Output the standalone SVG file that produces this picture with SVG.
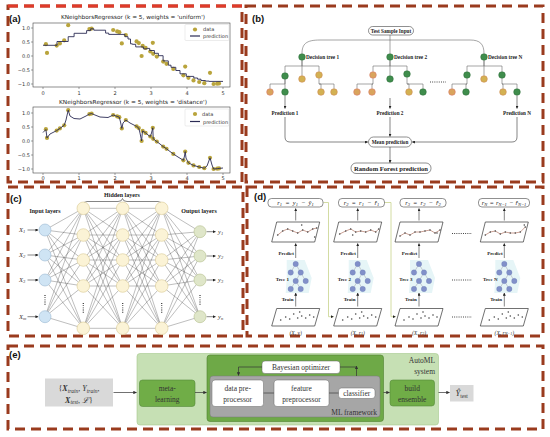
<svg xmlns="http://www.w3.org/2000/svg" width="550" height="437" viewBox="0 0 550 437">
<style>
.frame{fill:none;stroke:#9a3b1e;stroke-width:3;stroke-dasharray:10 6}
.lbl{font-family:"Liberation Sans",Arial,sans-serif;font-weight:bold;font-size:9.5px;fill:#111}
.mpl{font-family:"DejaVu Sans",sans-serif;fill:#333}
.tick{font-size:5px}
.ttl{font-size:5.6px;fill:#222}
.ax{fill:#fff;stroke:#444;stroke-width:0.6}
.tk{stroke:#444;stroke-width:0.5}
.dat{fill:#b9a43c}
.pred{fill:none;stroke:#2b2b55;stroke-width:0.9}
.leg{fill:#fff;stroke:#d0d0d0;stroke-width:0.4}
.tm{font-family:"Liberation Serif","Times New Roman",serif;font-weight:bold;fill:#222}
.con{fill:none;stroke:#6a6a6a;stroke-width:0.6;stroke-linejoin:round}
.arr{fill:none;stroke:#333;stroke-width:0.6;marker-end:url(#ah)}
.gn{fill:#3f8d4c;stroke:#2b6a37;stroke-width:0.5}
.yn{fill:#d3b152;stroke:#cf8a55;stroke-width:0.6}
.orn{fill:#d9a45c;stroke:#d9786a;stroke-width:0.6}
.pill{fill:#fff;stroke:#444;stroke-width:0.6}
.nn{stroke:#222;stroke-width:0.3;fill:none}
.inn{fill:#cfe4f4;stroke:#9bb9d2;stroke-width:0.6}
.hn{fill:#fbf3d6;stroke:#d8c993;stroke-width:0.6}
.outn{fill:#dfe6c9;stroke:#b6bf8d;stroke-width:0.6}
.dots{stroke:#333;stroke-width:1.2;stroke-dasharray:0.9 1.3;fill:none}
.mth{font-family:"Liberation Serif","Times New Roman",serif;font-style:italic;font-size:6.5px;fill:#222;word-spacing:1.5px}
.sb{font-size:4.5px}
.para{fill:#fff;stroke:#333;stroke-width:0.7}
.pl{fill:none;stroke:#b57a68;stroke-width:0.7}
.pd{fill:#444}
.te{stroke:#8a8a9a;stroke-width:0.4;fill:none}
.tb{fill:#8190c9;stroke:#6677b0;stroke-width:0.3}
.ygl{fill:none;stroke:#c8d38c;stroke-width:0.8}
.cm{font-family:"Liberation Serif","Times New Roman",serif;fill:#333}
.wb{fill:#fff;stroke:#666;stroke-width:0.5}
.gb{fill:#70ad47;stroke:#55893a;stroke-width:0.6}
.ea{fill:none;stroke:#333;stroke-width:0.7;marker-end:url(#ah2)}
</style>
<defs>
<marker id="ah" viewBox="0 0 6 6" refX="5.5" refY="3" markerWidth="3" markerHeight="3" markerUnits="userSpaceOnUse" orient="auto"><path d="M0,0 L6,3 L0,6z" fill="#222"/></marker>
<marker id="ah2" viewBox="0 0 6 6" refX="5.5" refY="3" markerWidth="3.5" markerHeight="3.5" markerUnits="userSpaceOnUse" orient="auto"><path d="M0,0 L6,3 L0,6z" fill="#333"/></marker>
<g id="tree">
<path d="M-9,-4 L9,-4 L16,14 L13,29 L-10,29 L-9,14Z" fill="#e6f5f7"/>
<path class="te" d="M0,0 L-5,8.5 M0,0 L5,8.5 M5,8.5 L0,17 M5,8.5 L10,17 M0,17 L-5,25 M0,17 L5,25"/>
<circle class="tb" cx="0" cy="0" r="2.7"/><circle class="tb" cx="-5" cy="8.5" r="2.7"/><circle class="tb" cx="5" cy="8.5" r="2.7"/>
<circle class="tb" cx="0" cy="17" r="2.7"/><circle class="tb" cx="10" cy="17" r="2.7"/><circle class="tb" cx="-5" cy="25" r="2.7"/><circle class="tb" cx="5" cy="25" r="2.7"/>
</g>
<g id="scat">
<circle class="pd" cx="-15" cy="320" r="0.8"/><circle class="pd" cx="-10" cy="317" r="0.8"/><circle class="pd" cx="-6" cy="319" r="0.8"/><circle class="pd" cx="-2" cy="314" r="0.8"/><circle class="pd" cx="2" cy="318" r="0.8"/><circle class="pd" cx="6" cy="316" r="0.8"/><circle class="pd" cx="10" cy="318" r="0.8"/><circle class="pd" cx="14" cy="315" r="0.8"/><circle class="pd" cx="18" cy="317" r="0.8"/><circle class="pd" cx="4" cy="312" r="0.8"/>
</g>
</defs>
<rect width="550" height="437" fill="#fff"/>

<g id="frames">
<rect class="frame" x="8" y="6" width="234" height="176"/>
<line x1="8" y1="6" x2="242" y2="6" stroke="#e03a2a" stroke-width="3" stroke-dasharray="10 6"/>
<rect class="frame" x="246" y="6" width="297" height="176"/>
<rect class="frame" x="8" y="187" width="235" height="149"/>
<rect class="frame" x="247" y="187" width="296" height="149"/>
<rect class="frame" x="8" y="346" width="535" height="83"/>
</g>

<g id="panel-a">
<text class="lbl" x="9" y="22">(a)</text>
<text class="mpl ttl" x="133" y="19" text-anchor="middle" textLength="144" lengthAdjust="spacingAndGlyphs">KNeighborsRegressor (k = 5, weights = 'uniform')</text>
<rect class="ax" x="33" y="23" width="197" height="64"/>
<path class="tk" d="M31,28H33M31,42H33M31,56H33M31,70H33M31,84H33M43,87V89M79,87V89M115,87V89M151,87V89M187,87V89M223,87V89"/>
<g class="mpl tick" text-anchor="end">
<text x="30" y="29.8">1.0</text><text x="30" y="43.8">0.5</text><text x="30" y="57.8">0.0</text><text x="30" y="71.8">−0.5</text><text x="30" y="85.8">−1.0</text>
</g>
<g class="mpl tick" text-anchor="middle">
<text x="43" y="95">0</text><text x="79" y="95">1</text><text x="115" y="95">2</text><text x="151" y="95">3</text><text x="187" y="95">4</text><text x="223" y="95">5</text>
</g>
<g id="dataTop" class="dat">
<circle cx="45.9" cy="44.2" r="2.1"/><circle cx="47" cy="52.9" r="2.1"/><circle cx="56.7" cy="45.6" r="2.1"/><circle cx="59.9" cy="43.4" r="2.1"/><circle cx="64.2" cy="40.3" r="2.1"/><circle cx="68.2" cy="25.2" r="2.1"/><circle cx="89.4" cy="29.1" r="2.1"/><circle cx="91.6" cy="28.6" r="2.1"/><circle cx="113.2" cy="30" r="2.1"/><circle cx="117.2" cy="31.4" r="2.1"/><circle cx="119.3" cy="32.2" r="2.1"/><circle cx="121.8" cy="43.4" r="2.1"/><circle cx="125.8" cy="35" r="2.1"/><circle cx="136.6" cy="41.4" r="2.1"/><circle cx="138.8" cy="43.1" r="2.1"/><circle cx="141.6" cy="56" r="2.1"/><circle cx="142.7" cy="45.9" r="2.1"/><circle cx="145.6" cy="47.9" r="2.1"/><circle cx="150.3" cy="51.5" r="2.1"/><circle cx="152.8" cy="42.8" r="2.1"/><circle cx="153.2" cy="53.8" r="2.1"/><circle cx="156.8" cy="56.6" r="2.1"/><circle cx="163.2" cy="61.6" r="2.1"/><circle cx="166.5" cy="63.8" r="2.1"/><circle cx="173.3" cy="68.9" r="2.1"/><circle cx="183.4" cy="75.3" r="2.1"/><circle cx="185.2" cy="66.6" r="2.1"/><circle cx="188.4" cy="77.8" r="2.1"/><circle cx="193.5" cy="80.4" r="2.1"/><circle cx="199.2" cy="82" r="2.1"/><circle cx="204.3" cy="83.2" r="2.1"/><circle cx="210" cy="72.8" r="2.1"/><circle cx="213.6" cy="84" r="2.1"/><circle cx="217.2" cy="83.7" r="2.1"/><circle cx="219" cy="83.4" r="2.1"/>
</g>
<path class="pred" d="M43,45.3H57V41.5H68.2V36.7H74.1V33.3H86.6V30.6H90.7V28.8H93.8V30.2H105.6V33.1H108.7V34.4H124.9V36.7H128V39H130.5V43.8H132.3V44.3H135.7V46.9H143.4V48.9H145.8V48.8H147.4V48.4H149.7V50.5H154.4V53.3H158.4V55.7H163.1V60.9H168.3V65.2H171V67.3H175.8V70.5H180V73.8H186.3V76.4H193.8V78H197.6V79.2H201V80.5H205.4V81.1H209.1V81.4H223"/>
<rect class="leg" x="185" y="24.5" width="44" height="16" rx="1"/>
<circle class="dat" cx="195" cy="29.5" r="2.1"/>
<text class="mpl" x="203" y="31.3" font-size="5">data</text>
<line x1="190" y1="36" x2="200" y2="36" stroke="#2b2b55" stroke-width="1.2"/>
<text class="mpl" x="203" y="37.8" font-size="5">prediction</text>

<text class="mpl ttl" x="133" y="104" text-anchor="middle" textLength="148" lengthAdjust="spacingAndGlyphs">KNeighborsRegressor (k = 5, weights = 'distance')</text>
<rect class="ax" x="33" y="107" width="197" height="66"/>
<path class="tk" d="M31,113H33M31,127H33M31,141H33M31,155H33M31,169H33M43,173V175M79,173V175M115,173V175M151,173V175M187,173V175M223,173V175"/>
<g class="mpl tick" text-anchor="end">
<text x="30" y="114.8">1.0</text><text x="30" y="128.8">0.5</text><text x="30" y="142.8">0.0</text><text x="30" y="156.8">−0.5</text><text x="30" y="170.8">−1.0</text>
</g>
<g class="mpl tick" text-anchor="middle">
<text x="43" y="180">0</text><text x="79" y="180">1</text><text x="115" y="180">2</text><text x="151" y="180">3</text><text x="187" y="180">4</text><text x="223" y="180">5</text>
</g>
<use href="#dataTop" transform="translate(0,85)"/>
<path class="pred" d="M43,132.5L45.9,129.5L47,137.9L50,134L56.7,130.6L59.9,128.4L64.2,125.3L66,120L68.2,110.2L70,116L74,118.5L80,119L86,116L89.4,114.1L91.6,113.6L95,115L100,117L108,117.5L113.2,115L117.2,116.4L119.3,117.2L120.5,122L121.8,128.4L123,123L125.8,120L130,123L136.6,126.4L138.8,128.1L140,133L141.6,141L142.2,134L142.7,130.9L145.6,132.9L148,135L150.3,136.5L151.5,133L152.8,127.8L153.2,138.8L156.8,141.6L160,144L163.2,146.6L166.5,148.8L170,151.5L173.3,153.9L178,157L183.4,160.3L184.5,156L185.2,151.6L186,158L188.4,162.8L193.5,165.4L199.2,167L204.3,168.2L207,166L210,157.8L212,165L213.6,169L217.2,168.7L219,168.4L223,168"/>
<rect class="leg" x="185" y="109" width="44" height="17" rx="1"/>
<circle class="dat" cx="195" cy="114" r="2.1"/>
<text class="mpl" x="202" y="116" font-size="5">data</text>
<line x1="190" y1="121.5" x2="200" y2="121.5" stroke="#2b2b55" stroke-width="1.2"/>
<text class="mpl" x="203" y="123.5" font-size="5">prediction</text>
</g>

<g id="panel-b">
<text class="lbl" x="252" y="22">(b)</text>
<g id="b-connectors">
<path class="con" d="M390,35V53.7"/>
<path class="con" d="M302,53.7C302,44 306,40 320,40H470C480,40 484,44 484,53.7"/>
<path class="con" d="M302,60.3V66H285V72.7M302,60.3V75.7M302,66H319V71.7M285,79.3V84H270V88.7M285,79.3V88.7M319,78.3V84H321V88.7M319,84H334V88.7"/>
<path class="con" d="M390,60.3V66H373V71.7M390,60.3V75.7M390,66H407V70.7M373,78.3V84H357V88.7M373,84H372V88.7M407,77.3V84H409V88.7M407,84H423V88.7"/>
<path class="con" d="M484,60.3V66H467V71.7M484,60.3V75.7M484,66H502V71.7M467,78.3V84H452V88.7M467,84H466V88.7M502,78.3V84H503V88.7M502,84H517V88.7"/>
<path class="arr" d="M285,95.5V108.5"/>
<path class="arr" d="M390,98V108.5"/>
<path class="arr" d="M517,95.5V108.5"/>
<path class="arr" d="M285,117V137Q285,142 290,142H367.8"/>
<path class="arr" d="M517,117V137Q517,142 512,142H412.2"/>
<path class="arr" d="M390,117V136.5"/>
<path class="arr" d="M390,147V162.8"/>
<path class="dots" d="M430,82H446"/>
</g>
<g id="b-test"><rect class="pill" x="368.5" y="26.5" width="45" height="8.5" rx="4.2"/><text class="tm" x="391" y="32.6" font-size="5.2" text-anchor="middle">Test Sample Input</text></g>
<g id="tree1">
<circle class="gn" cx="302" cy="57" r="3.3"/>
<circle class="gn" cx="285" cy="76" r="3.3"/><circle class="yn" cx="302" cy="79" r="3.3"/><circle class="yn" cx="319" cy="75" r="3.3"/>
<circle class="orn" cx="270" cy="92" r="3.3"/><circle class="gn" cx="285" cy="92" r="3.3"/><circle class="yn" cx="321" cy="92" r="3.3"/><circle class="yn" cx="334" cy="92" r="3.3"/>
<text class="tm" x="306" y="58.5" font-size="5.3">Decision tree 1</text>
</g>
<g id="tree2">
<circle class="gn" cx="390" cy="57" r="3.3"/>
<circle class="orn" cx="373" cy="75" r="3.3"/><circle class="gn" cx="390" cy="79" r="3.3"/><circle class="gn" cx="407" cy="74" r="3.3"/>
<circle class="orn" cx="357" cy="92" r="3.3"/><circle class="orn" cx="372" cy="92" r="3.3"/><circle class="yn" cx="409" cy="92" r="3.3"/><circle class="gn" cx="423" cy="92" r="3.3"/>
<text class="tm" x="394" y="58.5" font-size="5.3">Decision tree 2</text>
</g>
<g id="treeN">
<circle class="gn" cx="484" cy="57" r="3.3"/>
<circle class="gn" cx="467" cy="75" r="3.3"/><circle class="yn" cx="484" cy="79" r="3.3"/><circle class="gn" cx="502" cy="75" r="3.3"/>
<circle class="orn" cx="452" cy="92" r="3.3"/><circle class="gn" cx="466" cy="92" r="3.3"/><circle class="yn" cx="503" cy="92" r="3.3"/><circle class="gn" cx="517" cy="92" r="3.3"/>
<text class="tm" x="488" y="58.5" font-size="5.3">Decision tree N</text>
</g>
<g id="b-preds" class="tm" font-size="5.2" text-anchor="middle">
<text x="285" y="114.5">Prediction 1</text>
<text x="390" y="114.5">Prediction 2</text>
<text x="517" y="114.5">Prediction N</text>
</g>
<g id="b-mean"><rect class="pill" x="368.5" y="137" width="43" height="10" rx="5"/><text class="tm" x="390" y="143.8" font-size="5.2" text-anchor="middle">Mean prediction</text></g>
<g id="b-rf"><rect class="pill" x="351" y="163" width="80" height="10.5" rx="5"/><text class="tm" x="391" y="170.8" font-size="7" text-anchor="middle" textLength="74" lengthAdjust="spacingAndGlyphs">Random Forest prediction</text></g>
</g>

<g id="panel-c">
<text class="lbl" x="10" y="202">(c)</text>
<text class="tm" x="45" y="213" font-size="6" text-anchor="middle">Input layers</text>
<text class="tm" x="122" y="196.5" font-size="6" text-anchor="middle">Hidden layers</text>
<text class="tm" x="199" y="213" font-size="6" text-anchor="middle">Output layers</text>
<path d="M83,205.5Q83,201.5 87,201.5H118Q122,201.5 122.5,198.5Q123,201.5 127,201.5H158Q162,201.5 162,205.5" fill="none" stroke="#333" stroke-width="0.6"/>
<g id="c-connectors">
<path class="nn" d="M45 230L83.3 208.3M45 230L83.3 235M45 230L83.3 260M45 230L83.3 286M45 230L83.3 328.3M45 255L83.3 208.3M45 255L83.3 235M45 255L83.3 260M45 255L83.3 286M45 255L83.3 328.3M45 280L83.3 208.3M45 280L83.3 235M45 280L83.3 260M45 280L83.3 286M45 280L83.3 328.3M45 316.7L83.3 208.3M45 316.7L83.3 235M45 316.7L83.3 260M45 316.7L83.3 286M45 316.7L83.3 328.3"/>
<path class="nn" d="M83.3 208.3L122.7 208.3M83.3 208.3L122.7 235M83.3 208.3L122.7 260M83.3 208.3L122.7 286M83.3 208.3L122.7 328.3M83.3 235L122.7 208.3M83.3 235L122.7 235M83.3 235L122.7 260M83.3 235L122.7 286M83.3 235L122.7 328.3M83.3 260L122.7 208.3M83.3 260L122.7 235M83.3 260L122.7 260M83.3 260L122.7 286M83.3 260L122.7 328.3M83.3 286L122.7 208.3M83.3 286L122.7 235M83.3 286L122.7 260M83.3 286L122.7 286M83.3 286L122.7 328.3M83.3 328.3L122.7 208.3M83.3 328.3L122.7 235M83.3 328.3L122.7 260M83.3 328.3L122.7 286M83.3 328.3L122.7 328.3"/>
<path class="nn" d="M122.7 208.3L161.7 208.3M122.7 208.3L161.7 235M122.7 208.3L161.7 260M122.7 208.3L161.7 286M122.7 208.3L161.7 328.3M122.7 235L161.7 208.3M122.7 235L161.7 235M122.7 235L161.7 260M122.7 235L161.7 286M122.7 235L161.7 328.3M122.7 260L161.7 208.3M122.7 260L161.7 235M122.7 260L161.7 260M122.7 260L161.7 286M122.7 260L161.7 328.3M122.7 286L161.7 208.3M122.7 286L161.7 235M122.7 286L161.7 260M122.7 286L161.7 286M122.7 286L161.7 328.3M122.7 328.3L161.7 208.3M122.7 328.3L161.7 235M122.7 328.3L161.7 260M122.7 328.3L161.7 286M122.7 328.3L161.7 328.3"/>
<path class="nn" d="M161.7 208.3L200 231.7M161.7 208.3L200 256M161.7 208.3L200 280M161.7 208.3L200 316.7M161.7 235L200 231.7M161.7 235L200 256M161.7 235L200 280M161.7 235L200 316.7M161.7 260L200 231.7M161.7 260L200 256M161.7 260L200 280M161.7 260L200 316.7M161.7 286L200 231.7M161.7 286L200 256M161.7 286L200 280M161.7 286L200 316.7M161.7 328.3L200 231.7M161.7 328.3L200 256M161.7 328.3L200 280M161.7 328.3L200 316.7"/>
<path class="arr" d="M27.5,230H38.2"/><path class="arr" d="M27.5,255H38.2"/><path class="arr" d="M27.5,280H38.2"/><path class="arr" d="M27.5,316.7H38.2"/>
<path class="arr" d="M206.5,231.7H215.5"/><path class="arr" d="M206.5,256H215.5"/><path class="arr" d="M206.5,280H215.5"/><path class="arr" d="M206.5,316.7H215.5"/>
</g>
<g id="c-input">
<circle class="inn" cx="45" cy="230" r="6"/><circle class="inn" cx="45" cy="255" r="6"/><circle class="inn" cx="45" cy="280" r="6"/><circle class="inn" cx="45" cy="316.7" r="6"/>
<path class="dots" d="M45,295V306"/>
</g>
<g id="c-hidden">
<circle class="hn" cx="83.3" cy="208.3" r="6.3"/><circle class="hn" cx="83.3" cy="235" r="6.3"/><circle class="hn" cx="83.3" cy="260" r="6.3"/><circle class="hn" cx="83.3" cy="286" r="6.3"/><circle class="hn" cx="83.3" cy="328.3" r="6.3"/>
<circle class="hn" cx="122.7" cy="208.3" r="6.3"/><circle class="hn" cx="122.7" cy="235" r="6.3"/><circle class="hn" cx="122.7" cy="260" r="6.3"/><circle class="hn" cx="122.7" cy="286" r="6.3"/><circle class="hn" cx="122.7" cy="328.3" r="6.3"/>
<circle class="hn" cx="161.7" cy="208.3" r="6.3"/><circle class="hn" cx="161.7" cy="235" r="6.3"/><circle class="hn" cx="161.7" cy="260" r="6.3"/><circle class="hn" cx="161.7" cy="286" r="6.3"/><circle class="hn" cx="161.7" cy="328.3" r="6.3"/>
<path class="dots" d="M83.3,303V314M122.7,303V314M161.7,303V314"/>
</g>
<g id="c-output">
<circle class="outn" cx="200" cy="231.7" r="6"/><circle class="outn" cx="200" cy="256" r="6"/><circle class="outn" cx="200" cy="280" r="6"/><circle class="outn" cx="200" cy="316.7" r="6"/>
<path class="dots" d="M200,295V306"/>
</g>
<g class="cm" font-style="italic" font-size="6.5">
<text x="19" y="232">X<tspan class="sb" dy="1.3">1</tspan></text>
<text x="19" y="257">X<tspan class="sb" dy="1.3">2</tspan></text>
<text x="19" y="282">X<tspan class="sb" dy="1.3">3</tspan></text>
<text x="19" y="318.7">X<tspan class="sb" dy="1.3">m</tspan></text>
<text x="218" y="233.5">y<tspan class="sb" dy="1.3">1</tspan></text>
<text x="218" y="257.8">y<tspan class="sb" dy="1.3">2</tspan></text>
<text x="218" y="281.8">y<tspan class="sb" dy="1.3">3</tspan></text>
<text x="218" y="318.5">y<tspan class="sb" dy="1.3">n</tspan></text>
</g>
</g>

<g id="panel-d">
<text class="lbl" x="254" y="200">(d)</text>
<g id="d-connectors">
<path class="ygl" d="M323.5,202.5H328.5V316.7H333.5" marker-end="url(#ah)"/>
<path class="ygl" d="M384.5,202.5H391V316.7H395.5" marker-end="url(#ah)"/>
<path class="arr" d="M295.7,220.5V208.5"/><path class="arr" d="M357.7,220.5V208.5"/><path class="arr" d="M419,220.5V208.5"/><path class="arr" d="M504.3,220.5V208.5"/>
<path class="arr" d="M295.7,258V243.5"/><path class="arr" d="M357.7,258V243.5"/><path class="arr" d="M419,258V243.5"/><path class="arr" d="M504.3,258V243.5"/>
<path class="arr" d="M295.7,306.5V293"/><path class="arr" d="M357.7,306.5V293"/><path class="arr" d="M419,306.5V293"/><path class="arr" d="M504.3,306.5V293"/>
<path class="dots" d="M452,233.5H472M452,280H472M452,317H472"/>
</g>
<g id="d-r1"><rect class="pill" x="268" y="198.5" width="55" height="8.5" rx="3.5"/>
<text class="mth" x="295.5" y="204.8" text-anchor="middle">r<tspan class="sb" dy="1.2">1</tspan><tspan dy="-1.2"> = y</tspan><tspan class="sb" dy="1.2">1</tspan><tspan dy="-1.2"> − ŷ</tspan><tspan class="sb" dy="1.2">1</tspan></text></g>
<g id="d-r2"><rect class="pill" x="338.5" y="198.5" width="46" height="8.5" rx="3.5"/>
<text class="mth" x="361.5" y="204.8" text-anchor="middle">r<tspan class="sb" dy="1.2">2</tspan><tspan dy="-1.2"> = r</tspan><tspan class="sb" dy="1.2">1</tspan><tspan dy="-1.2"> − r̂</tspan><tspan class="sb" dy="1.2">1</tspan></text></g>
<g id="d-r3"><rect class="pill" x="400" y="198.5" width="46" height="8.5" rx="3.5"/>
<text class="mth" x="423" y="204.8" text-anchor="middle">r<tspan class="sb" dy="1.2">3</tspan><tspan dy="-1.2"> = r</tspan><tspan class="sb" dy="1.2">2</tspan><tspan dy="-1.2"> − r̂</tspan><tspan class="sb" dy="1.2">2</tspan></text></g>
<g id="d-rN"><rect class="pill" x="478.5" y="198.5" width="51" height="8.5" rx="3.5"/>
<text class="mth" x="504" y="204.8" text-anchor="middle" style="word-spacing:0.5px">r<tspan class="sb" dy="1.2">N</tspan><tspan dy="-1.2"> = r</tspan><tspan class="sb" dy="1.2">N−1</tspan><tspan dy="-1.2"> − r̂</tspan><tspan class="sb" dy="1.2">N−1</tspan></text></g>
<g id="d-plots-top">
<polygon class="para" points="276.7,222 319.7,222 314.7,242 271.7,242"/>
<polyline class="pl" points="277.7,235 282.7,231 287.7,229 292.7,231 297.7,233 302.7,230 307.7,232 312.7,229 316.7,228"/>
<g class="pd"><circle cx="277.7" cy="235" r="0.8"/><circle cx="282.7" cy="231" r="0.8"/><circle cx="287.7" cy="229" r="0.8"/><circle cx="292.7" cy="231" r="0.8"/><circle cx="297.7" cy="233" r="0.8"/><circle cx="302.7" cy="230" r="0.8"/><circle cx="307.7" cy="232" r="0.8"/><circle cx="312.7" cy="229" r="0.8"/><circle cx="316.7" cy="228" r="0.8"/><circle cx="301.7" cy="225" r="0.8"/><circle cx="314.7" cy="237" r="0.8"/></g>
<polygon class="para" points="338.7,222 381.7,222 376.7,242 333.7,242"/>
<polyline class="pl" points="339.7,234 345.7,231 350.7,229 355.7,232 360.7,231 365.7,232 370.7,230 375.7,232 378.7,229"/>
<g class="pd"><circle cx="339.7" cy="234" r="0.8"/><circle cx="345.7" cy="231" r="0.8"/><circle cx="350.7" cy="229" r="0.8"/><circle cx="355.7" cy="232" r="0.8"/><circle cx="360.7" cy="231" r="0.8"/><circle cx="365.7" cy="232" r="0.8"/><circle cx="370.7" cy="230" r="0.8"/><circle cx="375.7" cy="232" r="0.8"/><circle cx="378.7" cy="229" r="0.8"/><circle cx="352.7" cy="235" r="0.8"/></g>
<polygon class="para" points="400,222 443,222 438,242 395,242"/>
<polyline class="pl" points="400,236 405,233 410,235 415,232 420,232 425,231 430,230 435,233 440,230"/>
<g class="pd"><circle cx="400" cy="236" r="0.8"/><circle cx="405" cy="233" r="0.8"/><circle cx="410" cy="235" r="0.8"/><circle cx="415" cy="232" r="0.8"/><circle cx="420" cy="232" r="0.8"/><circle cx="425" cy="231" r="0.8"/><circle cx="430" cy="230" r="0.8"/><circle cx="435" cy="233" r="0.8"/><circle cx="440" cy="230" r="0.8"/><circle cx="437" cy="233" r="0.8"/></g>
<polygon class="para" points="485.3,222 528.3,222 523.3,242 480.3,242"/>
<polyline class="pl" points="485.3,235 490.3,232 495.3,231 500.3,234 505.3,232 510.3,233 515.3,233 520.3,232 525.3,227"/>
<g class="pd"><circle cx="485.3" cy="235" r="0.8"/><circle cx="490.3" cy="232" r="0.8"/><circle cx="495.3" cy="231" r="0.8"/><circle cx="500.3" cy="234" r="0.8"/><circle cx="505.3" cy="232" r="0.8"/><circle cx="510.3" cy="233" r="0.8"/><circle cx="515.3" cy="233" r="0.8"/><circle cx="520.3" cy="232" r="0.8"/><circle cx="525.3" cy="227" r="0.8"/><circle cx="524.3" cy="225" r="0.8"/></g>
</g>
<g id="d-trees">
<use href="#tree" transform="translate(295.7,264)"/>
<use href="#tree" transform="translate(357.7,264)"/>
<use href="#tree" transform="translate(419,264)"/>
<use href="#tree" transform="translate(504.3,264)"/>
</g>
<g class="tm" font-size="5" text-anchor="end">
<text x="289" y="281">Tree 1</text><text x="351" y="281">Tree 2</text><text x="412.5" y="281">Tree 3</text><text x="497.5" y="281">Tree N</text>
<text x="294" y="254.5">Predict</text><text x="356" y="254.5">Predict</text><text x="417.3" y="254.5">Predict</text><text x="502.6" y="254.5">Predict</text>
<text x="293.5" y="300.5">Train</text><text x="355.5" y="300.5">Train</text><text x="416.8" y="300.5">Train</text><text x="502" y="300.5">Train</text>
</g>
<g id="d-plots-bottom">
<polygon class="para" points="276.7,308.5 319.7,308.5 314.7,326 271.7,326"/>
<polygon class="para" points="338.7,308.5 381.7,308.5 376.7,326 333.7,326"/>
<polygon class="para" points="400,308.5 443,308.5 438,326 395,326"/>
<polygon class="para" points="485.3,308.5 528.3,308.5 523.3,326 480.3,326"/>
<use href="#scat" transform="translate(295.7,0)"/>
<use href="#scat" transform="translate(357.7,0)"/>
<use href="#scat" transform="translate(419,0)"/>
<use href="#scat" transform="translate(504.3,0)"/>
</g>
<g class="cm" font-style="italic" font-size="5.6" text-anchor="middle" fill="#222">
<text x="295.7" y="334.5">(X, y)</text>
<text x="357.7" y="334.5">(X, r<tspan font-size="4" dy="0.8">1</tspan><tspan dy="-0.8">)</tspan></text>
<text x="419" y="334.5">(X, r<tspan font-size="4" dy="0.8">2</tspan><tspan dy="-0.8">)</tspan></text>
<text x="504.3" y="334.5">(X, r<tspan font-size="4" dy="0.8">N−1</tspan><tspan dy="-0.8">)</tspan></text>
</g>
</g>

<g id="panel-e">
<text class="lbl" x="9" y="358">(e)</text>
<g id="e-input"><rect x="45" y="378.5" width="68" height="28" fill="#d9d9d9"/>
<text class="cm" x="79" y="391" font-size="8" text-anchor="middle">{<tspan font-weight="bold" font-style="italic">X</tspan><tspan font-style="italic" font-size="5.5" dy="1.5">train</tspan><tspan dy="-1.5">, </tspan><tspan font-style="italic">Y</tspan><tspan font-style="italic" font-size="5.5" dy="1.5">train</tspan><tspan dy="-1.5">,</tspan></text>
<text class="cm" x="79" y="402.5" font-size="8" text-anchor="middle"><tspan font-weight="bold" font-style="italic">X</tspan><tspan font-style="italic" font-size="5.5" dy="1.5">test</tspan><tspan dy="-1.5">, </tspan><tspan font-style="italic">ℒ</tspan>}</text>
</g>
<g id="e-automl"><rect x="137" y="353.5" width="301.5" height="71.5" rx="3" fill="#c6e0b4" stroke="#a5c78b" stroke-width="0.6"/>
<text class="cm" x="435" y="362.5" font-size="7.5" text-anchor="end">AutoML</text>
<text class="cm" x="435" y="374" font-size="7.5" text-anchor="end">system</text></g>
<g id="e-meta"><rect class="gb" x="139.5" y="380" width="55.5" height="26.5" rx="3"/>
<text class="cm" x="167.2" y="391" font-size="7.5" text-anchor="middle" fill="#f2f2e4">meta-</text>
<text class="cm" x="167.2" y="402" font-size="7.5" text-anchor="middle" fill="#f2f2e4">learning</text></g>
<g id="e-inner"><rect x="207" y="355" width="176.5" height="66.5" rx="3" fill="#6ea947" stroke="#4f7f30" stroke-width="0.6"/></g>
<g id="e-bayes"><rect class="wb" x="262" y="361" width="78" height="12.5" rx="3"/>
<text class="cm" x="301" y="370" font-size="7.5" text-anchor="middle">Bayesian optimizer</text></g>
<g id="e-mlfw"><rect x="210" y="376" width="170" height="41" rx="3" fill="#a6a6a6" stroke="#7a7a7a" stroke-width="0.5"/>
<text class="cm" x="377" y="414.5" font-size="7.5" text-anchor="end">ML framework</text></g>
<g id="e-data"><rect class="wb" x="212" y="380" width="51.5" height="26.5" rx="3"/>
<text class="cm" x="237.7" y="390.5" font-size="7.5" text-anchor="middle">data pre-</text>
<text class="cm" x="237.7" y="401.5" font-size="7.5" text-anchor="middle">processor</text></g>
<g id="e-feat"><rect class="wb" x="274" y="380" width="55" height="26.5" rx="3"/>
<text class="cm" x="301.5" y="390.5" font-size="7.5" text-anchor="middle">feature</text>
<text class="cm" x="301.5" y="401.5" font-size="7.5" text-anchor="middle">preprocessor</text></g>
<g id="e-clf"><rect class="wb" x="338.5" y="388" width="36.5" height="10.5" rx="3"/>
<text class="cm" x="356.7" y="395.8" font-size="7.5" text-anchor="middle">classifier</text></g>
<g id="e-build"><rect class="gb" x="390" y="380" width="44.5" height="26" rx="3"/>
<text class="cm" x="412.2" y="390.5" font-size="7.5" text-anchor="middle" fill="#f2f2e4">build</text>
<text class="cm" x="412.2" y="401.5" font-size="7.5" text-anchor="middle" fill="#f2f2e4">ensemble</text></g>
<g id="e-out"><rect x="450" y="385" width="23.5" height="16.5" fill="#d9d9d9"/>
<text class="cm" x="461.7" y="396" font-size="8.5" text-anchor="middle"><tspan font-style="italic">Ŷ</tspan><tspan font-size="5.5" dy="1.5">test</tspan></text></g>
<g id="e-connectors">
<path class="ea" d="M113.5,392.5H136.5"/>
<path class="ea" d="M195,392.5H206.5"/>
<path d="M263.5,393H274M329,393H338.5" stroke="#555" stroke-width="0.9" fill="none"/>
<path class="ea" d="M262,367H238.5V375.5"/>
<path d="M340,367H356.5" stroke="#333" stroke-width="0.7" fill="none"/>
<path class="ea" d="M356.5,376V366"/>
<path class="ea" d="M383.5,392.5H389.5"/>
<path class="ea" d="M438.5,392.5H449.5"/>
</g>
</g>
</svg>
